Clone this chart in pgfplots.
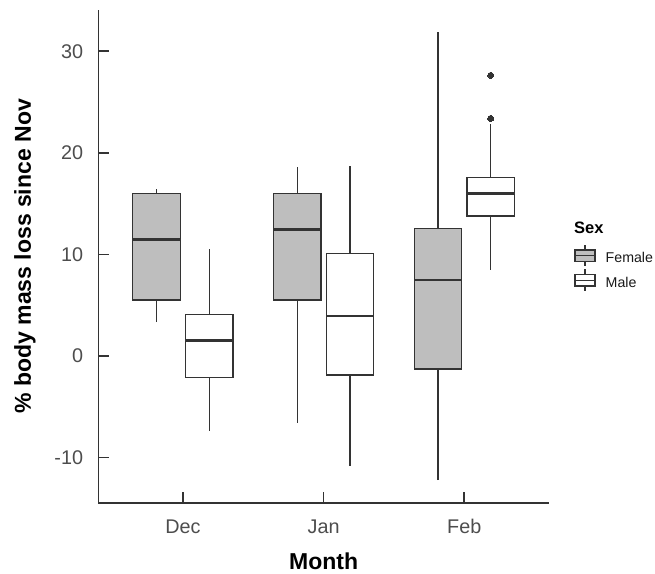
\documentclass[border=0pt]{standalone}
\usepackage{pgfplots}
\pgfplotsset{compat=1.18}
\usepgfplotslibrary{statistics}
\usepackage{fontspec}
\setmainfont{Liberation Sans}
\definecolor{boxline}{HTML}{333333}
\definecolor{fem}{HTML}{BEBEBE}
\definecolor{ticktext}{HTML}{4D4D4D}
\definecolor{axline}{HTML}{333333}

\pgfplotsset{
  bp/.style={
    boxplot/draw direction=y,
    boxplot/box extend=0.3375,
    boxplot/whisker extend=0,
    boxplot/every box/.style={draw=boxline, line width=1.3bp},
    boxplot/every whisker/.style={draw=boxline, line width=1.3bp},
    boxplot/every median/.style={draw=boxline, line width=2.8bp},
    draw=boxline, solid, mark=*, mark size=3bp,
    mark options={fill=boxline, draw=boxline, line width=0pt},
  },
  legbox/.style={legend image code/.code={
    \begin{scope}[yshift=2.5bp]
    \draw[boxline, line width=1.2bp, fill=#1] (0bp,-5.75bp) rectangle (20bp,5.75bp);
    \draw[boxline, line width=1.2bp] (0bp,0bp) -- (20bp,0bp);
    \draw[boxline, line width=1.2bp] (10bp,5.75bp) -- (10bp,10.75bp) (10bp,-5.75bp) -- (10bp,-10.75bp);
    \end{scope}
  }},
}

\begin{document}
\begin{tikzpicture}
\path[use as bounding box] (-98.5bp,-71.3bp) rectangle (556.5bp,502.7bp);
\begin{axis}[
  scale only axis,
  width=450.2bp, height=492.7bp,
  xmin=0.4, xmax=3.6, ymin=-14.44, ymax=34.06,
  axis lines*=left,
  axis line style={-, draw=axline, line width=1.6bp},
  tick align=inside,
  major tick length=10.7bp,
  tick style={draw=axline, line width=1.6bp},
  xtick={1,2,3}, xticklabels={Dec,Jan,Feb},
  ytick={-10,0,10,20,30},
  /pgf/number format/assume math mode=true,
  every tick label/.append style={font=\fontsize{19.8bp}{22bp}\selectfont, text=ticktext},
  yticklabel style={anchor=east, inner sep=0pt, xshift=-15.2bp},
  xticklabel style={anchor=base, inner sep=0pt, yshift=-30.6bp},
  xlabel={\bfseries Month},
  ylabel={\bfseries \% body mass loss since Nov},
  label style={font=\fontsize{23bp}{26bp}\selectfont\bfseries, text=black},
  xlabel style={at={(axis description cs:0.5,-0.1197)}, anchor=center},
  ylabel style={at={(axis description cs:-0.1633,0.5)}, anchor=center},
  clip=false,
  legend style={draw=none, fill=none, at={(axis description cs:1.0573,0.5243)}, anchor=north west,
    inner sep=0pt, outer sep=0pt, row sep=1.8bp, column sep=0bp,
    font=\fontsize{14.2bp}{16bp}\selectfont, text=black!90,
    nodes={inner sep=0pt}},
  legend cell align=left,
]
% Dec
\addplot[bp, fill=fem, forget plot, boxplot prepared={draw position=0.8125,
  lower whisker=3.31, lower quartile=5.51, median=11.49, upper quartile=16.0, upper whisker=16.4}] coordinates {};
\addplot[bp, fill=white, forget plot, boxplot prepared={draw position=1.1875,
  lower whisker=-7.35, lower quartile=-2.13, median=1.51, upper quartile=4.10, upper whisker=10.5}] coordinates {};
% Jan
\addplot[bp, fill=fem, forget plot, boxplot prepared={draw position=1.8125,
  lower whisker=-6.56, lower quartile=5.51, median=12.43, upper quartile=16.0, upper whisker=18.57}] coordinates {};
\addplot[bp, fill=white, forget plot, boxplot prepared={draw position=2.1875,
  lower whisker=-10.83, lower quartile=-1.87, median=3.94, upper quartile=10.1, upper whisker=18.73}] coordinates {};
% Feb
\addplot[bp, fill=fem, forget plot, boxplot prepared={draw position=2.8125,
  lower whisker=-12.24, lower quartile=-1.28, median=7.48, upper quartile=12.57, upper whisker=31.86}] coordinates {};
\addplot[bp, fill=white, forget plot, boxplot prepared={draw position=3.1875,
  lower whisker=8.46, lower quartile=13.78, median=16.01, upper quartile=17.59, upper whisker=22.8}]
  table[row sep=\\, y index=0] {27.63\\ 23.39\\};

\addlegendimage{legbox=fem}
\addlegendentry{\hspace{10bp}Female}
\addlegendimage{legbox=white}
\addlegendentry{\hspace{10bp}Male}

\node[anchor=base west, inner sep=0pt, font=\fontsize{16.5bp}{18bp}\selectfont\bfseries]
  at (axis description cs:1.0562,0.5454) {Sex};
\end{axis}
\end{tikzpicture}
\end{document}
